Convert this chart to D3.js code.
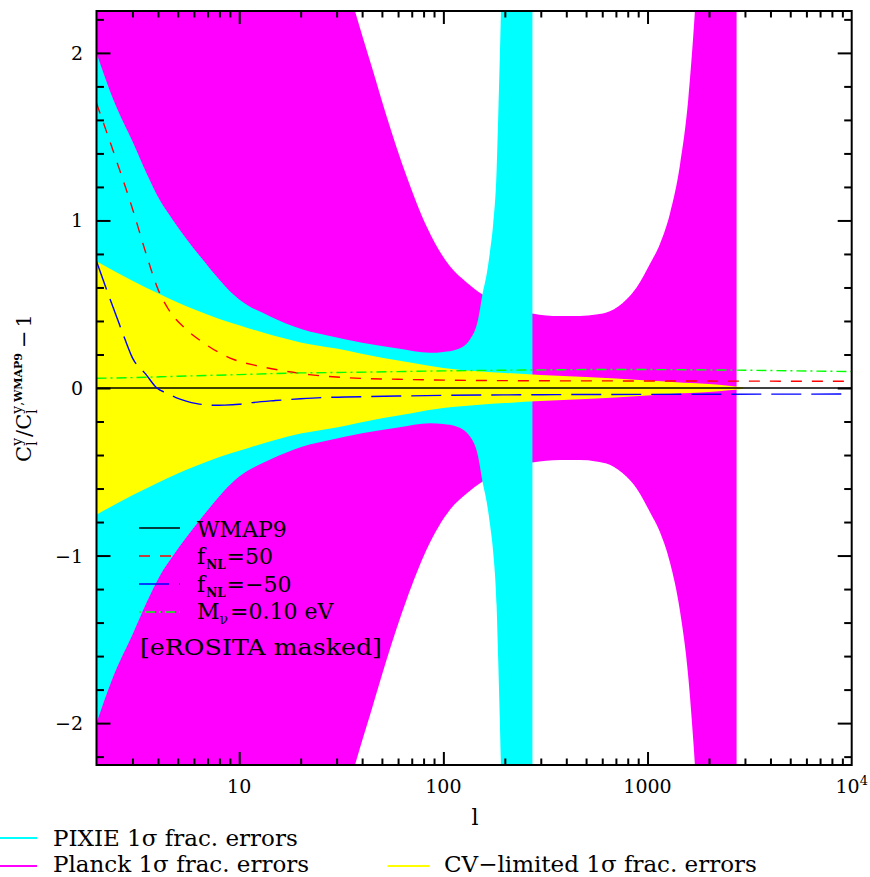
<!DOCTYPE html>
<html><head><meta charset="utf-8">
<script src="https://cdn.jsdelivr.net/npm/d3@7"></script>
<style>
body{margin:0;background:#fff}
svg{display:block}
text{font-family:"DejaVu Serif",serif;fill:#000}
</style>
</head><body>
<svg id="c" width="870" height="877"></svg>
<script>
// ---------------- data ----------------
// Planck 1-sigma fractional error (half-width of magenta band)
const planckL = [2, 5, 10, 20, 30, 36.9, 44.6, 52.8, 66.1, 82.8, 107.7, 130, 155.6, 200, 240, 273, 372, 467, 560, 654, 790, 884, 1027, 1150, 1287, 1441, 1582, 1674, 1706, 1800, 2000, 2730];
const planckV = [20, 10, 6, 3.6, 2.65, 2.25, 1.917, 1.619, 1.262, 0.964, 0.726, 0.63, 0.558, 0.50, 0.465, 0.445, 0.429, 0.43, 0.438, 0.458, 0.53, 0.60, 0.74, 0.86, 1.04, 1.33, 1.72, 2.1, 2.25, 2.9, 4.5, 20];
// PIXIE 1-sigma fractional error (cyan band)
const pixieL = [2, 2.42, 3.03, 3.52, 4.09, 4.75, 6.43, 10, 14.2, 20.5, 27.8, 40, 60, 86, 100, 116, 135, 148, 155.5, 163, 169, 175.4, 182.3, 185.6, 191.4, 200, 230, 273];
const pixieV = [2.0, 1.72, 1.46, 1.28, 1.12, 1.0, 0.786, 0.528, 0.427, 0.349, 0.31, 0.27, 0.235, 0.21, 0.215, 0.23, 0.29, 0.41, 0.56, 0.68, 0.81, 0.98, 1.3, 1.62, 2.25, 3.5, 8, 15];
// Cosmic-variance-limited 1-sigma fractional error (yellow band)
const cvL = [2, 3, 4, 5, 6, 8, 10, 15, 20, 30, 50, 70, 100, 150, 200, 300, 500, 700, 1000, 1500, 2000, 2500, 2930];
const cvV = [0.756, 0.64, 0.565, 0.51, 0.47, 0.412, 0.375, 0.31, 0.272, 0.235, 0.18, 0.15, 0.12, 0.1, 0.09, 0.078, 0.066, 0.056, 0.045, 0.032, 0.024, 0.014, 0.004];
// model curves
const wmapL = [2, 10000];
const wmapV = [0, 0];
const fnlPosL = [2, 2.5, 3, 3.5, 4, 4.5, 5.5, 6.5, 8, 9.4, 12, 16, 22, 33, 60, 100, 300, 1000, 3000, 10000];
const fnlPosV = [1.70, 1.36, 1.07, 0.8, 0.59, 0.47, 0.35, 0.28, 0.21, 0.17, 0.135, 0.105, 0.08, 0.062, 0.052, 0.047, 0.043, 0.042, 0.041, 0.04];
const fnlNegL = [2, 2.24, 2.5, 2.74, 3.0, 3.5, 3.95, 4.4, 4.9, 5.5, 6.2, 7.4, 8.5, 10, 11.6, 15, 20, 25.6, 33, 60, 100, 300, 1000, 10000];
const fnlNegV = [0.756, 0.587, 0.43, 0.30, 0.18, 0.08, 0.0, -0.03, -0.057, -0.078, -0.093, -0.103, -0.102, -0.097, -0.087, -0.075, -0.064, -0.057, -0.054, -0.048, -0.044, -0.04, -0.038, -0.036];
const mnuL = [2, 3, 5, 10, 20, 33, 60, 100, 300, 500, 1000, 3000, 10000];
const mnuV = [0.058, 0.062, 0.07, 0.08, 0.09, 0.093, 0.098, 0.102, 0.108, 0.11, 0.11, 0.106, 0.098];
// tick labels
const xTickVals = [10, 100, 1000, 10000];
const xTickLabels = ["10", "100", "1000", "10"];
const yTickVals = [-2, -1, 0, 1, 2];
const yTickLabels = ["\u22122", "\u22121", "0", "1", "2"];

// ---------------- layout ----------------
const P = {left: 96.5, right: 851.7, top: 11, bottom: 765};
const x = d3.scaleLog().domain([2, 1e4]).range([P.left, P.right]);
const y = d3.scaleLinear().domain([-2.25, 2.25]).range([P.bottom, P.top]);
const svg = d3.select('#c');
svg.append('rect').attr('width', 870).attr('height', 877).attr('fill', '#fff');
svg.append('defs').append('clipPath').attr('id', 'clip').append('rect')
  .attr('x', P.left).attr('y', P.top).attr('width', P.right - P.left).attr('height', P.bottom - P.top);
const g = svg.append('g').attr('clip-path', 'url(#clip)');

function band(L, V, color) {
  const data = L.map((l, i) => ({l, v: V[i]}));
  const area = d3.area().x(d => x(d.l)).y0(d => y(-d.v)).y1(d => y(d.v)).curve(d3.curveMonotoneX);
  g.append('path').datum(data).attr('d', area).attr('fill', color).attr('stroke', 'none');
}
band(planckL, planckV, '#ff00ff');
band(pixieL, pixieV, '#00ffff');
band(cvL, cvV, '#ffff00');

const lineGen = d3.line().x(d => x(d.l)).y(d => y(d.v)).curve(d3.curveMonotoneX);
const series = [
  {L: wmapL, V: wmapV, color: '#000000', dash: null, w: 1.6},
  {L: fnlPosL, V: fnlPosV, color: '#ff0000', dash: '11,10', w: 1.4},
  {L: fnlNegL, V: fnlNegV, color: '#0000ff', dash: '30,10', w: 1.4},
  {L: mnuL, V: mnuV, color: '#00ff00', dash: '10,4,2,4', w: 1.4}
];
series.forEach(s => {
  const data = s.L.map((l, i) => ({l, v: s.V[i]}));
  g.append('path').datum(data).attr('d', lineGen).attr('fill', 'none')
    .attr('stroke', s.color).attr('stroke-width', s.w).attr('stroke-dasharray', s.dash);
});

// ---------------- axes ----------------
const xMinor = [];
[1, 10, 100, 1000].forEach(dec => { for (let k = 2; k <= 9; k++) { const v = k * dec; if (v > 2 && v < 1e4) xMinor.push(v); } });
const yMinor = d3.range(-22, 23, 2).map(v => v / 10).filter(v => Math.abs(v - Math.round(v)) > 1e-6);

function ax(gen, pos, vals, size) {
  const a = svg.append('g').attr('transform', pos)
    .call(gen.tickValues(vals).tickSize(size).tickFormat(''));
  a.select('.domain').remove();
  a.selectAll('line').attr('stroke', '#000').attr('stroke-width', 2);
}
ax(d3.axisBottom(x), `translate(0,${P.bottom})`, xTickVals.slice(0, 3), -13);
ax(d3.axisBottom(x), `translate(0,${P.bottom})`, xMinor, -6.5);
ax(d3.axisTop(x), `translate(0,${P.top})`, xTickVals.slice(0, 3), -13);
ax(d3.axisTop(x), `translate(0,${P.top})`, xMinor, -6.5);
ax(d3.axisLeft(y), `translate(${P.left},0)`, yTickVals, -14);
ax(d3.axisLeft(y), `translate(${P.left},0)`, yMinor, -7.5);
ax(d3.axisRight(y), `translate(${P.right},0)`, yTickVals, -14);
ax(d3.axisRight(y), `translate(${P.right},0)`, yMinor, -7.5);

svg.append('rect').attr('x', P.left).attr('y', P.top).attr('width', P.right - P.left).attr('height', P.bottom - P.top)
  .attr('fill', 'none').attr('stroke', '#000').attr('stroke-width', 2);

// tick labels
xTickVals.forEach((v, i) => {
  const t = svg.append('text').attr('x', x(v)).attr('y', 793).attr('text-anchor', 'middle')
    .attr('font-size', 19).text(xTickLabels[i]);
  if (v === 10000) t.append('tspan').attr('font-size', 13).attr('dy', -8).text('4');
});
yTickVals.forEach((v, i) => {
  svg.append('text').attr('x', 83).attr('y', y(v) + 7).attr('text-anchor', 'end')
    .attr('font-size', 19).text(yTickLabels[i]);
});

// axis titles
svg.append('text').attr('x', 475).attr('y', 825).attr('text-anchor', 'middle').attr('font-size', 22).text('l');

const yl = svg.append('g');
let cx = 0;
function piece(t, size, shift, weight, advance) {
  const e = yl.append('text').attr('x', cx).attr('y', shift).attr('font-size', size)
    .attr('font-weight', weight || 'normal').text(t);
  const w = e.node().getComputedTextLength();
  if (advance !== false) cx += w;
  return w;
}
piece('C', 21, 0);
let x0 = cx;
let wa = piece('y', 14, -9, null, false);
let wb = piece('l', 14, 6, null, false);
cx = x0 + Math.max(wa, wb) + 1;
piece('/', 21, 0);
piece('C', 21, 0);
x0 = cx;
piece('y', 14, -9);
piece(',', 12, -9);
piece('WMAP9', 11, -9, 'bold');
const supEnd = cx;
cx = x0;
piece('l', 14, 6);
cx = supEnd + 5;
piece('\u2212', 21, 0);
cx += 3;
piece('1', 21, 0);
yl.attr('transform', `translate(31,${388 + cx / 2}) rotate(-90)`);

// ---------------- in-plot legend ----------------
const leg = [
  {color: '#000000', dash: null, y: 528},
  {color: '#ff0000', dash: '11,10', y: 556},
  {color: '#0000ff', dash: '30,10', y: 584},
  {color: '#00ff00', dash: '2,4,10,4', y: 612}
];
leg.forEach(d => {
  svg.append('line').attr('x1', 139).attr('x2', 180).attr('y1', d.y).attr('y2', d.y)
    .attr('stroke', d.color).attr('stroke-width', 1.4).attr('stroke-dasharray', d.dash);
});
svg.append('text').attr('x', 197).attr('y', 536.5).attr('font-size', 22).text('WMAP9');
function fnl(yb, val) {
  const t = svg.append('text').attr('x', 197).attr('y', yb).attr('font-size', 22);
  t.append('tspan').text('f');
  t.append('tspan').attr('font-size', 12).attr('font-weight', 'bold').attr('dy', 5).attr('dx', 1).text('NL');
  t.append('tspan').attr('dy', -5).attr('dx', 1).text(val);
}
fnl(563.5, '=50');
fnl(591.5, '=\u221250');
const tm = svg.append('text').attr('x', 197).attr('y', 618.5).attr('font-size', 22);
tm.append('tspan').text('M');
tm.append('tspan').attr('font-size', 14).attr('dy', 5).text('\u03bd');
tm.append('tspan').attr('dy', -5).attr('dx', 2).text('=0.10 eV');
svg.append('text').attr('x', 140).attr('y', 655).attr('font-size', 23)
  .attr('textLength', 242).attr('lengthAdjust', 'spacingAndGlyphs').text('[eROSITA masked]');

// ---------------- bottom legend ----------------
const bleg = [
  {color: '#00ffff', x1: 0, x2: 37, y: 838, tx: 53, ty: 845.5, label: 'PIXIE 1\u03c3 frac. errors'},
  {color: '#ff00ff', x1: 0, x2: 37, y: 866, tx: 53, ty: 871.5, label: 'Planck 1\u03c3 frac. errors'},
  {color: '#ffff00', x1: 387.5, x2: 429.5, y: 866, tx: 444, ty: 871.5, label: 'CV\u2212limited 1\u03c3 frac. errors'}
];
bleg.forEach(d => {
  svg.append('line').attr('x1', d.x1).attr('x2', d.x2).attr('y1', d.y).attr('y2', d.y)
    .attr('stroke', d.color).attr('stroke-width', 2);
  svg.append('text').attr('x', d.tx).attr('y', d.ty).attr('font-size', 23).text(d.label);
});
</script>
</body></html>
